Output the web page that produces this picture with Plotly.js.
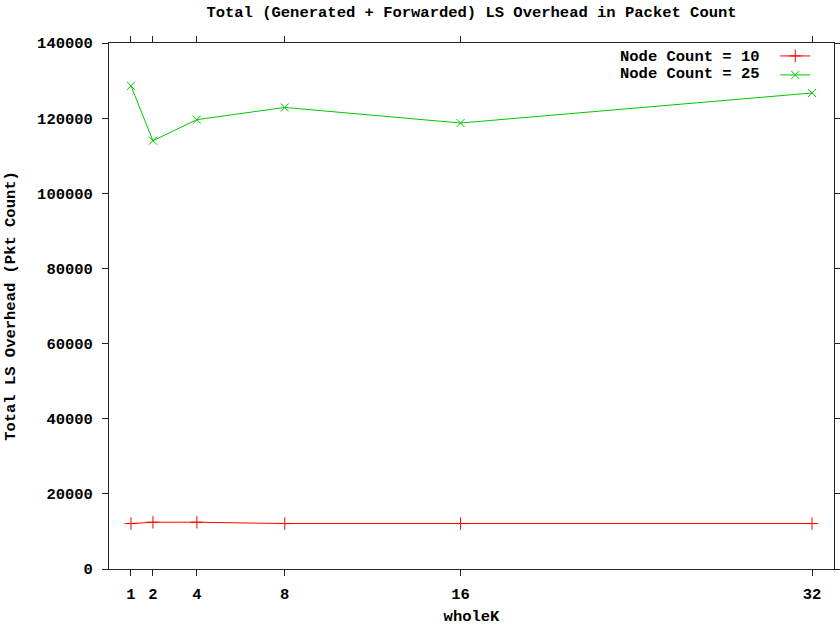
<!DOCTYPE html>
<html>
<head>
<meta charset="utf-8">
<script src="https://cdn.plot.ly/plotly-3.0.1.min.js"></script>
<style>html,body{margin:0;padding:0;background:#fff;}#chart{width:840px;height:626px;}</style>
</head>
<body>
<div id="chart"></div>
<script>
const wholeK = [1, 2, 4, 8, 16, 32];
const nodeCount10 = [12100, 12450, 12450, 12100, 12100, 12100];
const nodeCount25 = [128600, 114000, 119600, 122850, 118700, 126700];
const xTicks = [1, 2, 4, 8, 16, 32];
const yTicks = [0, 20000, 40000, 60000, 80000, 100000, 120000, 140000];
const seriesNames = ['Node Count = 10', 'Node Count = 25'];

const FONT = 'Liberation Mono, DejaVu Sans Mono, monospace';
const fnt = {family: FONT, size: 15.5, color: '#000', weight: 'bold'};

const traces = [
  {x: wholeK, y: nodeCount10, mode: 'lines+markers', name: ' ',
   line: {color: '#ff0000', width: 1},
   marker: {symbol: 'cross-thin-open', size: 9, line: {color: '#ff0000', width: 1}}},
  {x: wholeK, y: nodeCount25, mode: 'lines+markers', name: '  ',
   line: {color: '#00c800', width: 1},
   marker: {symbol: 'x-thin-open', size: 8, line: {color: '#00c800', width: 1}}}
];

const axisCommon = {
  showgrid: false, zeroline: false, showline: true, mirror: 'ticks',
  linecolor: '#222', linewidth: 1, ticks: 'outside', ticklen: 6, tickwidth: 1,
  tickcolor: '#222', tickfont: fnt
};

const layout = {
  width: 840, height: 626,
  margin: {l: 109, r: 6, t: 43, b: 57},
  paper_bgcolor: '#fff', plot_bgcolor: '#fff',
  title: {text: 'Total (Generated + Forwarded) LS Overhead in Packet Count',
          font: fnt, x: 0.5, xref: 'paper', y: 0.981, yanchor: 'middle'},
  xaxis: Object.assign({}, axisCommon, {
    range: [0, 33], tickvals: xTicks, ticktext: xTicks.map(String),
    ticklabelstandoff: 4,
    title: {text: 'wholeK', font: fnt, standoff: 14}
  }),
  yaxis: Object.assign({}, axisCommon, {
    range: [0, 140000], tickvals: yTicks, ticktext: yTicks.map(String),
    ticklabelstandoff: 6,
    title: {text: 'Total LS Overhead (Pkt Count)', font: fnt, standoff: 17}
  }),
  showlegend: true,
  legend: {x: 0.919, xanchor: 'left', y: 1.003, yanchor: 'top',
           bgcolor: 'rgba(0,0,0,0)', borderwidth: 0,
           font: {family: FONT, size: 11, color: '#000'}, tracegroupgap: 0},
  annotations: seriesNames.map((t, i) => ({
    text: t, xref: 'paper', yref: 'paper', x: 0.9007, y: i === 0 ? 0.974 : 0.941,
    xanchor: 'right', yanchor: 'middle', showarrow: false, font: fnt
  }))
};

Plotly.newPlot('chart', traces, layout, {displayModeBar: false, staticPlot: true});
</script>
</body>
</html>
